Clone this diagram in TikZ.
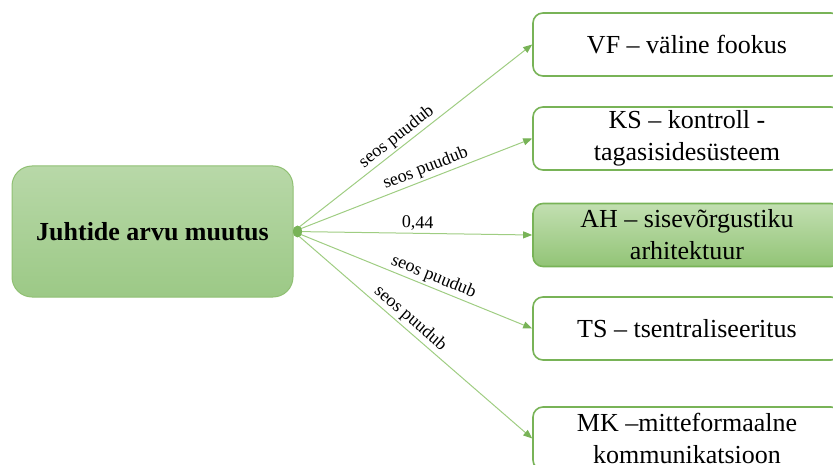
\documentclass[tikz,border=0pt]{standalone}
\usepackage{fontspec}
\setmainfont{Liberation Serif}
\usetikzlibrary{arrows.meta}
\definecolor{boxline}{HTML}{78B357}
\definecolor{linkline}{HTML}{9FCD82}
\definecolor{srcline}{HTML}{90C073}
\definecolor{srctop}{HTML}{B8D8A8}
\definecolor{srcbot}{HTML}{9CC986}
\definecolor{hltop}{HTML}{C2DFB1}
\definecolor{hlbot}{HTML}{92C476}
\tikzset{
  x=1pt, y=1pt,
  source/.style={draw=srcline, line width=1pt, rounded corners=20pt,
    top color=srctop, bottom color=srcbot, minimum width=281pt,
    minimum height=131pt, inner sep=0pt, align=center,
    font=\fontsize{26}{32}\selectfont\bfseries},
  target/.style={draw=boxline, line width=1.6pt, rounded corners=10pt,
    fill=white, minimum width=308pt, minimum height=63pt, inner sep=0pt,
    align=center, font=\fontsize{26}{32}\selectfont},
  hilite/.style={target, top color=hltop, bottom color=hlbot},
  link/.style={draw=linkline, line width=1pt,
    -{Triangle[length=9pt,width=7pt,fill=boxline,color=boxline]}},
  tag/.style={font=\fontsize{18}{20}\selectfont, inner sep=2pt, sloped}
}
\begin{document}
\begin{tikzpicture}
\useasboundingbox (0,0) rectangle (833,-465);
\clip (0,0) rectangle (833,-465);

% source factor
\node[source] (src) at (152.5,-231.5) {Juhtide arvu muutus};

% dependent dimensions
\node[target] (vf) at (687,-44.5) {VF -- väline fookus};
\node[target] (ks) at (687,-138.5) {KS -- kontroll -\\tagasisidesüsteem};
\node[hilite] (ah) at (687,-235) {AH -- sisevõrgustiku\\arhitektuur};
\node[target] (ts) at (687,-328.5) {TS -- tsentraliseeritus};
\node[target] (mk) at (687,-438.5) {MK --mitteformaalne\\kommunikatsioon};

% relations
\draw[link] (src.east) -- node[tag, above, pos=0.46] {seos puudub} (vf.west);
\draw[link] (src.east) -- node[tag, above, pos=0.57] {seos puudub} (ks.west);
\draw[link] (src.east) -- node[tag, above, pos=0.52] {0,44} (ah.west);
\draw[link] (src.east) -- node[tag, above, pos=0.57] {seos puudub} (ts.west);
\draw[link] (src.east) -- node[tag, above, pos=0.46] {seos puudub} (mk.west);

% hub marker where the relations leave the source
\fill[boxline] ([xshift=4pt]src.east) ellipse [x radius=4.5pt, y radius=6pt];
\end{tikzpicture}
\end{document}
